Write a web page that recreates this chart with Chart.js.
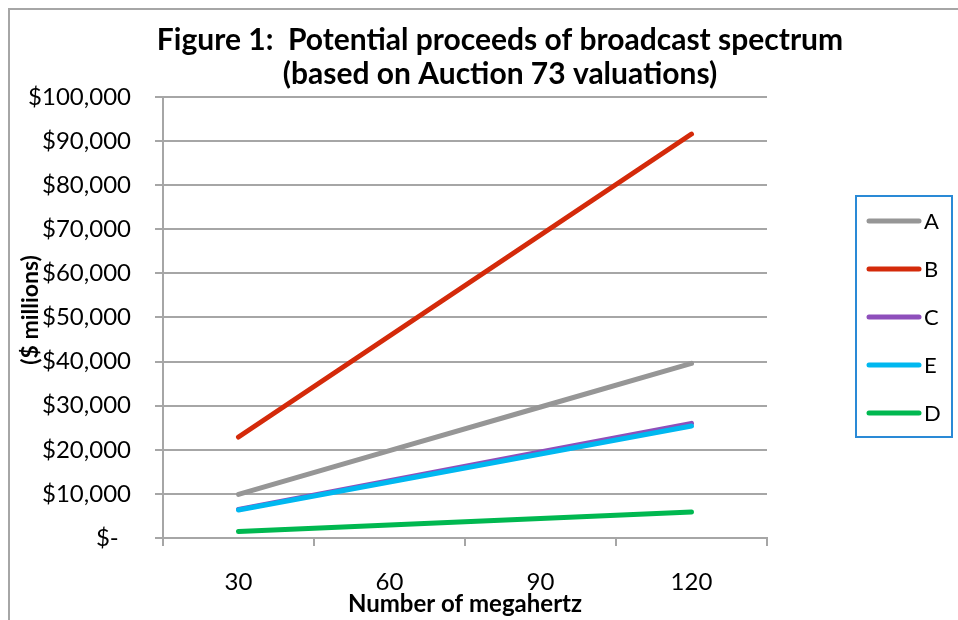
<!DOCTYPE html>
<html>
<head>
<meta charset="utf-8">
<script src="https://cdn.jsdelivr.net/npm/chart.js@4/dist/chart.umd.min.js"></script>
<style>
  html, body { margin: 0; padding: 0; background: #fff; overflow: hidden; }
  #wrap { position: relative; width: 958px; height: 620px; overflow: hidden; }
  #frame {
    position: absolute; left: 8px; top: 8px; width: 1400px; height: 1400px;
    border: 2px solid #a6a6a6; pointer-events: none;
  }
  #chart { position: absolute; left: 0; top: 0; }
</style>
</head>
<body>
<div id="wrap">
  <canvas id="chart" width="1000" height="620"></canvas>
  <div id="frame"></div>
</div>
<script>
const megahertz = ["30", "60", "90", "120"];
const seriesNames = ["A", "B", "C", "E", "D"];
const seriesA = [9900, 19800, 29700, 39600];
const seriesB = [22900, 45800, 68700, 91600];
const seriesC = [6500, 13000, 19500, 26000];
const seriesE = [6350, 12700, 19050, 25400];
const seriesD = [1450, 2950, 4400, 5900];
const seriesColors = ["#969696", "#d42a0a", "#8e4fbb", "#00b8f0", "#00b850"];
const yTicks = [0, 10000, 20000, 30000, 40000, 50000, 60000, 70000, 80000, 90000, 100000];

const gridColor = "#a6a6a6";
Chart.defaults.font.family = "Lato, 'Open Sans', sans-serif";
Chart.defaults.color = "#000";

// later series sit on top, as in the spreadsheet
const makeSet = (name, values, color, i) => ({
  label: name,
  data: values,
  borderColor: color,
  backgroundColor: color,
  borderWidth: 5,
  borderCapStyle: "round",
  borderJoinStyle: "round",
  pointRadius: 0,
  tension: 0,
  order: 10 - i,
});

// legend box and the rotated y title, drawn by hand like the Excel original
const sideBits = {
  id: "sideBits",
  afterDraw(chart) {
    const ctx = chart.ctx;
    ctx.save();
    ctx.strokeStyle = "#2a8ad6";
    ctx.lineWidth = 2;
    ctx.strokeRect(856, 196, 96, 241);
    ctx.font = "22px Lato, sans-serif";
    ctx.textBaseline = "middle";
    ctx.textAlign = "left";
    chart.data.datasets.forEach((ds, i) => {
      const y = 221 + i * 48;
      ctx.strokeStyle = ds.borderColor;
      ctx.lineWidth = 5;
      ctx.lineCap = "round";
      ctx.beginPath();
      ctx.moveTo(869, y);
      ctx.lineTo(919, y);
      ctx.stroke();
      ctx.fillStyle = "#000";
      ctx.fillText(ds.label, 924, y + 1);
    });
    ctx.translate(31, 310);
    ctx.rotate(-Math.PI / 2);
    ctx.textAlign = "center";
    ctx.font = "bold 23px Lato, sans-serif";
    ctx.fillText("($ millions)", 0, 0);
    ctx.restore();
  },
};

const chart = new Chart(document.querySelector("#chart"), {
  type: "line",
  data: {
    labels: megahertz,
    datasets: [
      makeSet(seriesNames[0], seriesA, seriesColors[0], 0),
      makeSet(seriesNames[1], seriesB, seriesColors[1], 1),
      makeSet(seriesNames[2], seriesC, seriesColors[2], 2),
      makeSet(seriesNames[3], seriesE, seriesColors[3], 3),
      makeSet(seriesNames[4], seriesD, seriesColors[4], 4),
    ],
  },
  options: {
    responsive: false,
    animation: false,
    devicePixelRatio: 1,
    layout: { padding: 0 },
    plugins: {
      legend: { display: false },
      tooltip: { enabled: false },
      title: {
        display: true,
        text: [
          "Figure 1:  Potential proceeds of broadcast spectrum",
          "(based on Auction 73 valuations)",
        ],
        font: { size: 30, weight: "bold", lineHeight: 1.133 },
        color: "#000",
        padding: { top: 23, bottom: 6 },
      },
    },
    scales: {
      x: {
        offset: true,
        grid: {
          offset: true,
          drawOnChartArea: false,
          drawTicks: true,
          tickLength: 8,
          color: gridColor,
          lineWidth: 2,
        },
        border: { color: gridColor, width: 2 },
        ticks: { font: { size: 24 }, padding: 22, maxRotation: 0 },
        title: {
          display: true,
          text: "Number of megahertz",
          font: { size: 24, weight: "bold" },
          padding: { top: 0, bottom: 1 },
        },
        afterFit: (s) => { s.height = 82; },
      },
      y: {
        min: 0,
        max: 100000,
        afterBuildTicks: (s) => { s.ticks = yTicks.map((v) => ({ value: v })); },
        grid: { color: gridColor, lineWidth: 2, tickLength: 8 },
        border: { color: gridColor, width: 2 },
        ticks: {
          font: { size: 24 },
          padding: 24,
          callback: (v) => (v === 0 ? "$-  " : "$" + v.toLocaleString("en-US")),
        },
        afterFit: (s) => { s.width = 163; },
      },
      pad: {
        type: "linear",
        position: "right",
        grid: { display: false },
        border: { display: false },
        ticks: { display: false },
        afterFit: (s) => { s.width = 233; },
      },
    },
  },
  plugins: [sideBits],
});
</script>
</body>
</html>
